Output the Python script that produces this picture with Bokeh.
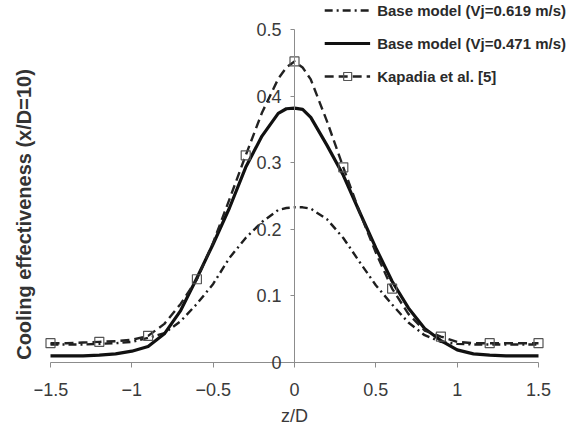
from bokeh.plotting import figure
from bokeh.models import (LinearAxis, Range1d, FixedTicker, Legend, LegendItem,
                          ColumnDataSource)
from bokeh.embed import file_html
from bokeh.resources import INLINE

# ---- data ----
z = [-1.5, -1.4, -1.3, -1.2, -1.1, -1.0, -0.9, -0.8, -0.7, -0.6, -0.5, -0.4,
     -0.3, -0.2, -0.1, -0.05, 0.0, 0.05, 0.1, 0.2, 0.3, 0.4, 0.5, 0.6, 0.7,
     0.8, 0.9, 1.0, 1.1, 1.2, 1.3, 1.4, 1.5]

base_0619 = [0.027, 0.027, 0.027, 0.028, 0.029, 0.031, 0.037, 0.044, 0.062,
             0.088, 0.118, 0.157, 0.187, 0.211, 0.229, 0.232, 0.233, 0.233,
             0.231, 0.215, 0.187, 0.151, 0.116, 0.087, 0.060, 0.041, 0.031,
             0.028, 0.027, 0.027, 0.027, 0.027, 0.027]

base_0471 = [0.010, 0.010, 0.010, 0.011, 0.013, 0.017, 0.024, 0.043, 0.078,
             0.127, 0.178, 0.232, 0.293, 0.340, 0.374, 0.381, 0.382, 0.380,
             0.368, 0.326, 0.281, 0.226, 0.172, 0.122, 0.082, 0.051, 0.033,
             0.019, 0.013, 0.011, 0.010, 0.010, 0.010]

kapadia_curve = [0.029, 0.029, 0.030, 0.031, 0.032, 0.034, 0.040, 0.058,
                 0.088, 0.125, 0.180, 0.245, 0.311, 0.375, 0.426, 0.443,
                 0.452, 0.443, 0.425, 0.362, 0.293, 0.226, 0.165, 0.111,
                 0.073, 0.048, 0.039, 0.031, 0.029, 0.029, 0.029, 0.029,
                 0.029]

kap_z = [-1.5, -1.2, -0.9, -0.6, -0.3, 0.0, 0.3, 0.6, 0.9, 1.2, 1.5]
kap_v = [0.029, 0.031, 0.040, 0.125, 0.311, 0.452, 0.293, 0.111, 0.039,
         0.029, 0.029]

x_ticks = [-1.5, -1.0, -0.5, 0.0, 0.5, 1.0, 1.5]
x_tick_labels = ["\u22121.5", "\u22121", "\u22120.5", "0", "0.5", "1", "1.5"]
y_ticks = [0.0, 0.1, 0.2, 0.3, 0.4, 0.5]
y_tick_labels = ["0", "0.1", "0.2", "0.3", "0.4", "0.5"]

series_labels = ["Base model (Vj=0.619 m/s)", "Base model (Vj=0.471 m/s)",
                 "Kapadia et al. [5]"]

# ---- layout geometry ----
W, H = 566, 428
L = 34
px_per_x = 162.67
px_per_y = 666.0
x0 = -1.5 - (50 - L) / px_per_x
x1 = 1.5 + (W - 538) / px_per_x
y0 = -(H - 362) / px_per_y
y1 = 362 / px_per_y

FONT = "Liberation Sans"

p = figure(width=W, height=H, output_backend="svg", toolbar_location=None,
           x_axis_location=None, y_axis_location=None,
           x_range=Range1d(x0, x1), y_range=Range1d(y0, y1),
           min_border_left=L, min_border_right=0, min_border_top=0,
           min_border_bottom=0)
p.outline_line_color = None
p.xgrid.visible = False
p.ygrid.visible = False
p.background_fill_color = "white"
p.border_fill_color = "white"

src = ColumnDataSource(dict(z=z, a=base_0619, b=base_0471, k=kapadia_curve))
ksrc = ColumnDataSource(dict(z=kap_z, v=kap_v))

r1 = p.line("z", "a", source=src, line_color="#1e1e1e", line_width=2.4,
            line_dash="8 4 2 4", line_join="round")
r2 = p.line("z", "b", source=src, line_color="#111111", line_width=3.2,
            line_join="round")
r3 = p.line("z", "k", source=src, line_color="#222222", line_width=2.4,
            line_dash="9 5", line_join="round")
r4 = p.scatter("z", "v", source=ksrc, marker="square", size=9,
               line_color="#555555", line_width=1.2, fill_color=None)

# x axis at y = 0
xa = LinearAxis(fixed_location=0, bounds=(-1.5, 1.5),
                ticker=FixedTicker(ticks=x_ticks),
                major_label_overrides=dict(zip(x_ticks, x_tick_labels)))
xa.axis_line_color = "#8c8c8c"
xa.major_tick_line_color = "#8c8c8c"
xa.minor_tick_line_color = None
xa.major_tick_out = 5
xa.major_tick_in = 0
xa.major_label_standoff = 15
xa.major_label_text_font = FONT
xa.major_label_text_font_size = "18px"
xa.major_label_text_color = "#3a3a3a"
xa.axis_label = "z/D"
xa.axis_label_standoff = 7
xa.axis_label_text_font = FONT
xa.axis_label_text_font_size = "18px"
xa.axis_label_text_font_style = "normal"
xa.axis_label_text_color = "#3a3a3a"
p.add_layout(xa, "below")

# y axis at x = 0
ya = LinearAxis(fixed_location=0, bounds=(0, 0.5),
                ticker=FixedTicker(ticks=y_ticks),
                major_label_overrides=dict(zip(y_ticks, y_tick_labels)))
ya.axis_line_color = "#8c8c8c"
ya.major_tick_line_color = "#8c8c8c"
ya.minor_tick_line_color = None
ya.major_tick_out = 4
ya.major_tick_in = 0
ya.major_label_standoff = 9
ya.major_label_text_font = FONT
ya.major_label_text_font_size = "18px"
ya.major_label_text_color = "#3a3a3a"
p.add_layout(ya, "left")

# y title on the far left
ta = LinearAxis(ticker=FixedTicker(ticks=[]), axis_line_color=None)
ta.major_tick_out = 0
ta.major_tick_in = 0
ta.minor_tick_out = 0
ta.minor_tick_in = 0
ta.major_label_standoff = 0
ta.axis_label = "Cooling effectiveness (x/D=10)"
ta.axis_label_standoff = 0
ta.axis_label_text_font = FONT
ta.axis_label_text_font_size = "20px"
ta.axis_label_text_font_style = "bold"
ta.axis_label_text_color = "#333333"
p.add_layout(ta, "left")

legend = Legend(items=[LegendItem(label=series_labels[0], renderers=[r1]),
                       LegendItem(label=series_labels[1], renderers=[r2]),
                       LegendItem(label=series_labels[2], renderers=[r3, r4])],
                location="top_right")
legend.background_fill_alpha = 0
legend.border_line_color = None
legend.margin = 0
legend.padding = 3
legend.spacing = 13
legend.glyph_width = 46
legend.glyph_height = 20
legend.label_height = 20
legend.label_standoff = 7
legend.label_text_font = FONT
legend.label_text_font_size = "15px"
legend.label_text_font_style = "bold"
legend.label_text_color = "#2a2a2a"
p.add_layout(legend)

open("out.html", "w").write(file_html(p, INLINE))
